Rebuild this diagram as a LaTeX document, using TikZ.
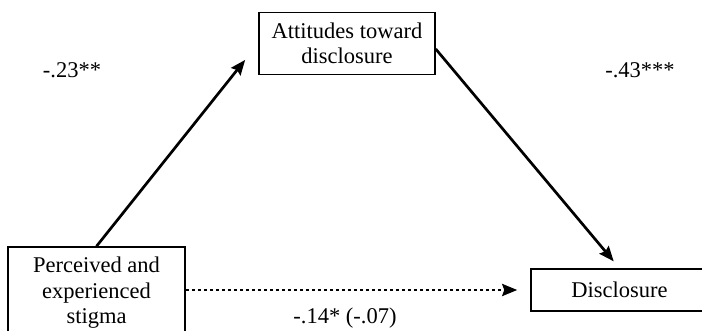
\documentclass[tikz,border=0pt]{standalone}
\usepackage{fontspec}
\setmainfont{Liberation Serif}
\usetikzlibrary{arrows.meta}
\begin{document}
\begin{tikzpicture}[x=1pt,y=-1pt,
  box/.style={draw, line width=1.5pt, rectangle, align=center, inner sep=0pt,
    font=\fontsize{22.5}{25.5}\selectfont},
  coef/.style={font=\fontsize{22.5}{25.5}\selectfont, inner sep=0pt},
  path/.style={line width=2.7pt, -{Stealth[length=15pt,width=12pt,inset=2pt]}},
  indirect/.style={path, dash pattern=on 3.5pt off 2.5pt}]
  \useasboundingbox (0,0) rectangle (702,331);
  \clip (0,0) rectangle (702,331);
  % variables
  \node[box, minimum width=177, minimum height=92] (stigma) at (96.5,293)
    {Perceived and\\experienced\\stigma};
  \node[box, minimum width=176, minimum height=62] (att) at (347,43.5)
    {Attitudes toward\\disclosure};
  \node[box, minimum width=177, minimum height=42] (disc) at (619.5,290)
    {Disclosure};
  % paths
  \draw[path, shorten >=21pt] (stigma.north) -- (att.west);
  \draw[path, shorten >=9pt] ([yshift=-5.5pt]att.east) -- (disc.north);
  \draw[indirect, shorten >=13pt] (stigma.east |- disc.west) -- (disc.west);
  % coefficients
  \node[coef] (a) at (72,70) {-.23**};
  \node[coef] (b) at (640,70) {-.43***};
  \node[coef] (c) at (345,318) {-.14* (-.07)};
\end{tikzpicture}
\end{document}
